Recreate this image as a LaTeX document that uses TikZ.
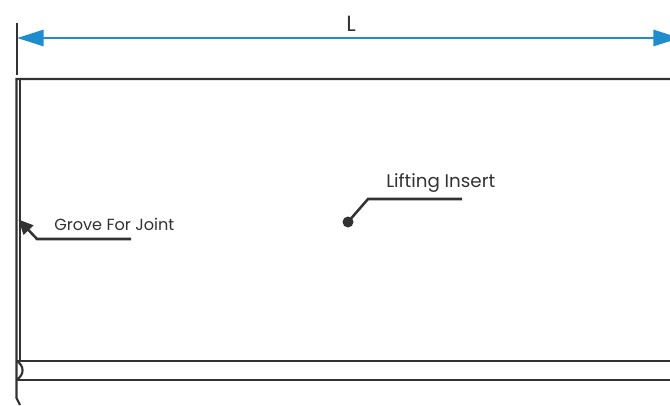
\documentclass[tikz,border=0pt]{standalone}
\usepackage{fontspec}
\setmainfont{Poppins}
\usetikzlibrary{arrows.meta}
\definecolor{dimblue}{RGB}{30,140,205}
\definecolor{inkgrey}{RGB}{50,50,50}
\tikzset{
  outline/.style={draw=inkgrey,line width=1.6pt},
  leader/.style={draw=inkgrey,line width=1.9pt},
  lbl/.style={text=inkgrey,inner sep=0pt},
}
\begin{document}
\begin{tikzpicture}[x=0.75pt,y=-0.75pt]
    \useasboundingbox (0,0) rectangle (670,405);
    \clip (0,0) rectangle (670,405);
    % the dimension line
    \coordinate (dimL) at (17,38);
    \coordinate (dimR) at (680,38);
    \draw[inkgrey,line width=1.5pt] (16.5,23) -- (16.5,75);
    \draw[dimblue,line width=2.2pt,{Triangle[length=20pt,width=12pt]}-{Triangle[length=20pt,width=12pt]}] (dimL) -- (dimR);
    \node[lbl,font=\fontsize{16.5pt}{18pt}\selectfont] (lenL) at (351,23.5) {L};
    % the panel
    \draw[outline] (670,79) -- (16.5,79) -- (16.5,398) -- (20,405);
    \draw[outline] (20,79) -- (20,361);
    \draw[outline] (16.5,361) -- (670,361);
    \draw[outline] (16.5,380) -- (670,380);
    % the groove at the corner
    \draw[outline] (17,361) .. controls (24,366) and (25,374) .. (16.5,380);
    % lifting insert
    \coordinate (dotA) at (348,222);
    \coordinate (kneeA) at (368,199);
    \coordinate (endA) at (462,199);
    \fill[inkgrey] (dotA) circle [radius=5.5];
    \draw[leader] (dotA) -- (kneeA) -- (endA);
    \node[lbl,anchor=west,font=\fontsize{13.7pt}{15pt}\selectfont] (insert) at (386,183) {Lifting Insert};
    % the joint
    \coordinate (tipB) at (18.5,219.5);
    \coordinate (kneeB) at (37,239);
    \coordinate (endB) at (131,239);
    \draw[leader,{Triangle[length=11pt,width=10pt]}-] (tipB) -- (kneeB) -- (endB);
    \node[lbl,anchor=west,font=\fontsize{12.1pt}{14pt}\selectfont] (joint) at (54,224) {Grove For Joint};
\end{tikzpicture}
\end{document}
